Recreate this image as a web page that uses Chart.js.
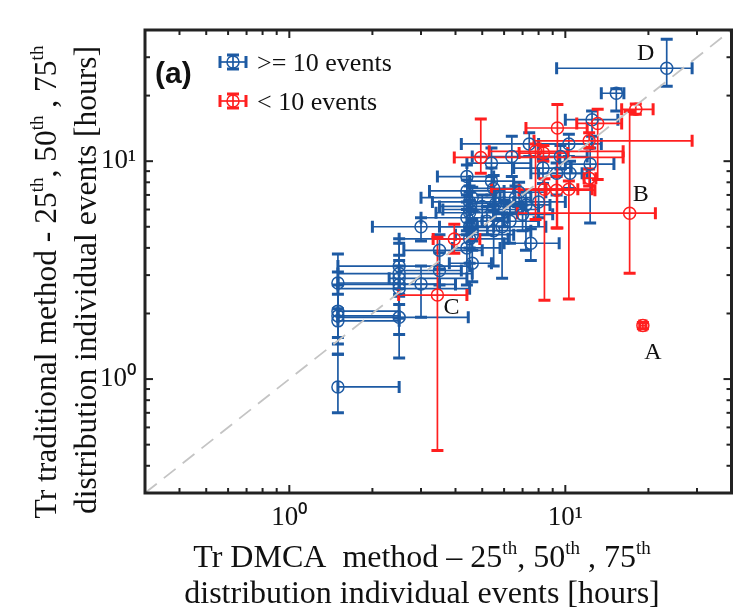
<!DOCTYPE html>
<html>
<head>
<meta charset="utf-8">
<script src="https://cdn.jsdelivr.net/npm/chart.js@4.4.1/dist/chart.umd.min.js"></script>
<style>
  body { margin: 0; background: #fff; }
  canvas { display: block; }
</style>
</head>
<body>
<canvas id="myChart" width="739" height="607"></canvas>
<script>
// axis ticks
const tickValues = [1, 10];
const tickLabels = ['10\u2070', '10\u00b9'];

// >= 10 events : median and 25th / 75th percentiles (DMCA on x, traditional on y)
const blueX   = [1.5, 1.5, 1.5, 1.5, 1.5, 2.5, 2.5, 2.5, 2.5, 2.5, 2.5, 3.0, 3.0, 3.5, 3.5, 4.4, 4.4, 4.5, 4.5, 4.4, 4.5, 4.6, 4.4, 5.0, 5.2, 5.5, 5.5, 5.4, 5.4, 6.0, 6.3, 6.6, 7.0, 7.2, 7.5, 6.4, 7.4, 10.3, 8.3, 9.3, 10.4, 12.3, 12.5, 15.3, 23.3, 8.0, 5.9, 4.6, 4.5, 4.6, 5.6, 6.8, 9.6, 4.5];
const blueXLo = [1.5, 1.5, 1.5, 1.5, 1.5, 1.5, 1.5, 2.3, 1.5, 1.5, 1.5, 2.0, 2.5, 2.5, 2.6, 3.44, 3.22, 3.3, 3.6, 3.0, 3.5, 4.0, 3.9, 3.5, 4.4, 4.4, 4.5, 4.4, 4.5, 4.5, 5.0, 5.5, 5.5, 6.0, 6.0, 4.6, 4.2, 8.0, 6.5, 7.5, 8.0, 10.0, 10.0, 13.5, 9.3, 6.5, 4.8, 3.8, 2.5, 3.0, 4.5, 5.5, 8.0, 3.4];
const blueXHi = [2.5, 2.5, 2.5, 2.5, 2.5, 4.5, 4.6, 4.4, 4.0, 4.5, 4.45, 4.6, 3.5, 4.2, 5.0, 5.5, 6.0, 6.0, 5.5, 6.2, 5.5, 6.5, 5.8, 7.0, 6.0, 7.5, 6.5, 7.5, 6.5, 8.0, 8.0, 7.5, 9.0, 8.8, 9.5, 9.5, 13.5, 12.5, 10.5, 11.5, 12.0, 15.0, 15.5, 16.3, 28.8, 10.0, 8.5, 5.4, 6.2, 5.8, 7.2, 8.5, 12.0, 5.5];
const blueY   = [2.76, 2.05, 1.95, 1.85, 0.92, 3.3, 3.05, 2.9, 2.72, 2.6, 1.92, 5.0, 2.73, 3.15, 3.9, 8.5, 7.3, 6.5, 6.0, 5.5, 5.0, 4.6, 4.0, 6.2, 5.3, 4.8, 7.5, 9.8, 8.1, 6.0, 5.3, 6.8, 5.7, 6.3, 4.2, 10.5, 12.0, 12.0, 9.3, 8.8, 8.8, 9.7, 15.5, 20.5, 26.7, 6.5, 5.0, 3.4, 4.4, 6.8, 6.4, 7.2, 10.5, 5.8];
const blueYLo = [2.1, 1.55, 1.3, 1.45, 0.7, 2.6, 2.4, 2.2, 1.9, 1.6, 1.25, 4.3, 1.92, 2.7, 3.2, 7.0, 6.0, 5.2, 4.8, 4.6, 4.0, 3.9, 2.7, 5.0, 4.6, 3.3, 6.3, 8.5, 7.0, 5.0, 4.2, 5.8, 4.8, 3.9, 3.5, 8.5, 10.5, 10.5, 7.9, 7.0, 7.5, 5.2, 13.0, 17.0, 22.1, 5.5, 2.9, 2.8, 3.4, 5.9, 5.4, 6.2, 9.2, 4.9];
const blueYHi = [3.75, 3.1, 2.7, 2.45, 1.3, 4.4, 4.2, 3.7, 3.5, 3.3, 2.45, 5.5, 3.3, 3.8, 4.6, 9.6, 8.2, 7.7, 7.2, 6.5, 6.0, 5.4, 4.8, 7.0, 6.2, 5.9, 8.6, 11.5, 9.3, 6.6, 6.4, 7.7, 6.3, 7.2, 4.9, 13.0, 13.5, 13.3, 10.3, 9.8, 10.0, 11.5, 17.0, 21.5, 36.3, 7.4, 5.8, 4.3, 5.0, 7.6, 7.4, 8.0, 11.8, 6.6];

// < 10 events
const redX   = [19.1, 17.1, 3.44, 3.96, 4.94, 9.36, 13.1, 12.2, 7.8, 8.33, 8.4, 9.3, 10.3, 12.2, 18.0];
const redXLo = [18.6, 6.7, 2.49, 3.32, 3.96, 7.2, 11.0, 7.7, 5.3, 6.8, 5.4, 6.8, 8.5, 11.7, 16.0];
const redXHi = [19.6, 21.2, 4.4, 4.9, 16.2, 12.0, 16.0, 28.8, 16.2, 10.2, 11.1, 12.8, 12.5, 12.9, 20.8];
const redY   = [1.76, 5.77, 2.43, 4.39, 10.4, 14.2, 14.9, 12.4, 11.1, 10.9, 7.44, 7.36, 7.44, 8.36, 17.3];
const redYLo = [1.7, 3.06, 0.47, 3.78, 8.8, 4.93, 8.25, 11.5, 5.4, 10.0, 2.3, 4.93, 2.33, 7.7, 16.4];
const redYHi = [1.82, 16.9, 4.48, 5.14, 15.6, 18.2, 17.3, 13.5, 12.0, 11.8, 8.3, 8.5, 8.1, 9.2, 18.3];

// labelled events
const noteLabels = ['A', 'B', 'C', 'D'];
const noteSeries = ['red', 'red', 'red', 'blue'];
const noteIndex  = [0, 1, 2, 44];

const BLUE = '#1d5aa3';
const RED = '#ff1f1f';
const SERIF = '"Liberation Serif", "Times New Roman", serif';

const series = {
  blue: { x: blueX, xl: blueXLo, xh: blueXHi, y: blueY, yl: blueYLo, yh: blueYHi, color: BLUE },
  red: { x: redX, xl: redXLo, xh: redXHi, y: redY, yl: redYLo, yh: redYHi, color: RED }
};

const toPoints = (s) => s.x.map((v, i) => ({ x: v, y: s.y[i] }));

function capLine(ctx, x1, y1, x2, y2) {
  ctx.beginPath();
  ctx.moveTo(x1, y1);
  ctx.lineTo(x2, y2);
  ctx.stroke();
}

// error bars go under the circles
const errorBars = {
  id: 'errorBars',
  beforeDatasetsDraw(chart) {
    const { ctx, scales: { x, y }, chartArea } = chart;
    ctx.save();
    ctx.beginPath();
    ctx.rect(chartArea.left, chartArea.top, chartArea.right - chartArea.left, chartArea.bottom - chartArea.top);
    ctx.clip();
    ['blue', 'red'].forEach(name => {
      const s = series[name];
      ctx.strokeStyle = s.color;
      s.x.forEach((xv, i) => {
        const px = x.getPixelForValue(xv);
        const py = y.getPixelForValue(s.y[i]);
        const x1 = x.getPixelForValue(s.xl[i]);
        const x2 = x.getPixelForValue(s.xh[i]);
        const y1 = y.getPixelForValue(s.yl[i]);
        const y2 = y.getPixelForValue(s.yh[i]);
        ctx.lineWidth = 1.7;
        capLine(ctx, x1, py, x2, py);
        capLine(ctx, px, y1, px, y2);
        ctx.lineWidth = 3;
        const c = 6;
        capLine(ctx, x1, py - c, x1, py + c);
        capLine(ctx, x2, py - c, x2, py + c);
        capLine(ctx, px - c, y1, px + c, y1);
        capLine(ctx, px - c, y2, px + c, y2);
      });
    });
    ctx.restore();
  }
};

function richText(ctx, parts, size, cx, cy) {
  const sup = Math.round(size * 0.6);
  let total = 0;
  parts.forEach(p => {
    ctx.font = (p[1] ? sup : size) + 'px ' + SERIF;
    total += ctx.measureText(p[0]).width;
  });
  let xx = cx - total / 2;
  ctx.textAlign = 'left';
  ctx.textBaseline = 'alphabetic';
  parts.forEach(p => {
    ctx.font = (p[1] ? sup : size) + 'px ' + SERIF;
    ctx.fillText(p[0], xx, p[1] ? cy - size * 0.42 : cy);
    xx += ctx.measureText(p[0]).width;
  });
}

function legendMark(ctx, cx, cy, color) {
  ctx.strokeStyle = color;
  ctx.lineWidth = 1.7;
  capLine(ctx, cx - 13, cy, cx + 13, cy);
  capLine(ctx, cx, cy - 7, cx, cy + 7);
  ctx.lineWidth = 3;
  capLine(ctx, cx - 13, cy - 6, cx - 13, cy + 6);
  capLine(ctx, cx + 13, cy - 6, cx + 13, cy + 6);
  capLine(ctx, cx - 6, cy - 7, cx + 6, cy - 7);
  capLine(ctx, cx - 6, cy + 7, cx + 6, cy + 7);
  ctx.lineWidth = 1.5;
  ctx.beginPath();
  ctx.arc(cx, cy, 6, 0, Math.PI * 2);
  ctx.stroke();
}

const frame = {
  id: 'frame',
  afterDraw(chart) {
    const { ctx, scales: { x, y }, chartArea: a } = chart;
    ctx.save();

    // inward ticks on all four sides
    ctx.strokeStyle = '#222';
    ctx.lineWidth = 2;
    [0.1, 1, 10].forEach(d => {
      for (let k = 1; k <= 9; k++) {
        const v = k * d;
        if (v <= 0.3 || v >= 40) continue;
        const len = k === 1 ? 8 : 5;
        const px = x.getPixelForValue(v);
        const py = y.getPixelForValue(v);
        capLine(ctx, px, a.bottom, px, a.bottom - len);
        capLine(ctx, px, a.top, px, a.top + len);
        capLine(ctx, a.left, py, a.left + len, py);
        capLine(ctx, a.right, py, a.right - len, py);
      }
    });
    ctx.lineWidth = 3;
    ctx.strokeRect(a.left, a.top, a.right - a.left, a.bottom - a.top);

    // event labels
    ctx.fillStyle = '#111';
    ctx.font = '24px ' + SERIF;
    ctx.textAlign = 'center';
    ctx.textBaseline = 'middle';
    const offs = [[10, 27], [11, -19], [14, 13], [-21, -15]];
    noteLabels.forEach((t, i) => {
      const s = series[noteSeries[i]];
      const j = noteIndex[i];
      ctx.fillText(t, x.getPixelForValue(s.x[j]) + offs[i][0], y.getPixelForValue(s.y[j]) + offs[i][1]);
    });

    // panel tag and legend
    ctx.font = 'bold 30px "Liberation Sans", Arial, sans-serif';
    ctx.textAlign = 'left';
    ctx.textBaseline = 'alphabetic';
    ctx.fillText('(a)', 155, 83);
    legendMark(ctx, 233, 62, BLUE);
    legendMark(ctx, 233, 101, RED);
    ctx.fillStyle = '#111';
    ctx.font = '26px ' + SERIF;
    ctx.textBaseline = 'middle';
    ctx.fillText('>= 10 events', 257, 64);
    ctx.fillText('< 10 events', 257, 103);

    // axis titles
    richText(ctx, [['Tr DMCA  method \u2013 25'], ['th', 1], [', 50'], ['th', 1], [' , 75'], ['th', 1]], 32, 422, 567);
    richText(ctx, [['distribution individual events [hours]']], 32, 422, 603);
    ctx.save();
    ctx.translate(56, 282);
    ctx.rotate(-Math.PI / 2);
    richText(ctx, [['Tr traditional method - 25'], ['th', 1], [', 50'], ['th', 1], [' , 75'], ['th', 1]], 31.5, 0, 0);
    ctx.restore();
    ctx.save();
    ctx.translate(96, 280);
    ctx.rotate(-Math.PI / 2);
    richText(ctx, [['distribution individual events [hours]']], 31.5, 0, 0);
    ctx.restore();

    ctx.restore();
  }
};

const logAxis = (pad) => ({
  type: 'logarithmic',
  min: 0.3,
  max: 40,
  grid: { display: false, drawTicks: false },
  border: { display: false },
  afterBuildTicks: (axis) => { axis.ticks = tickValues.map(v => ({ value: v })); },
  ticks: {
    color: '#111',
    padding: pad,
    font: { family: SERIF, size: 27 },
    maxRotation: 0,
    autoSkip: false,
    callback: (v) => tickLabels[tickValues.indexOf(v)]
  }
});

const ctx = document.getElementById('myChart').getContext('2d');
new Chart(ctx, {
  type: 'scatter',
  data: {
    datasets: [
      {
        type: 'line',
        label: 'y = x',
        data: [{ x: 0.3, y: 0.3 }, { x: 40, y: 40 }],
        borderColor: '#c4c4c4',
        borderWidth: 1.8,
        borderDash: [15, 9],
        pointRadius: 0,
        order: 0
      },
      {
        label: '< 10 events',
        data: toPoints(series.red),
        borderColor: RED,
        backgroundColor: 'rgba(0,0,0,0)',
        pointRadius: 6,
        pointBorderWidth: 1.5,
        order: 1
      },
      {
        label: '>= 10 events',
        data: toPoints(series.blue),
        borderColor: BLUE,
        backgroundColor: 'rgba(0,0,0,0)',
        pointRadius: 6,
        pointBorderWidth: 1.5,
        order: 2
      }
    ]
  },
  options: {
    responsive: false,
    animation: false,
    layout: { padding: { left: 0, top: 30, right: 7, bottom: 0 } },
    plugins: { legend: { display: false }, tooltip: { enabled: false } },
    scales: {
      x: Object.assign(logAxis(9), {
        afterFit: (s) => { s.height = 114; }
      }),
      y: Object.assign(logAxis(9), {
        afterFit: (s) => { s.width = 145; }
      })
    }
  },
  plugins: [errorBars, frame]
});
</script>
</body>
</html>
